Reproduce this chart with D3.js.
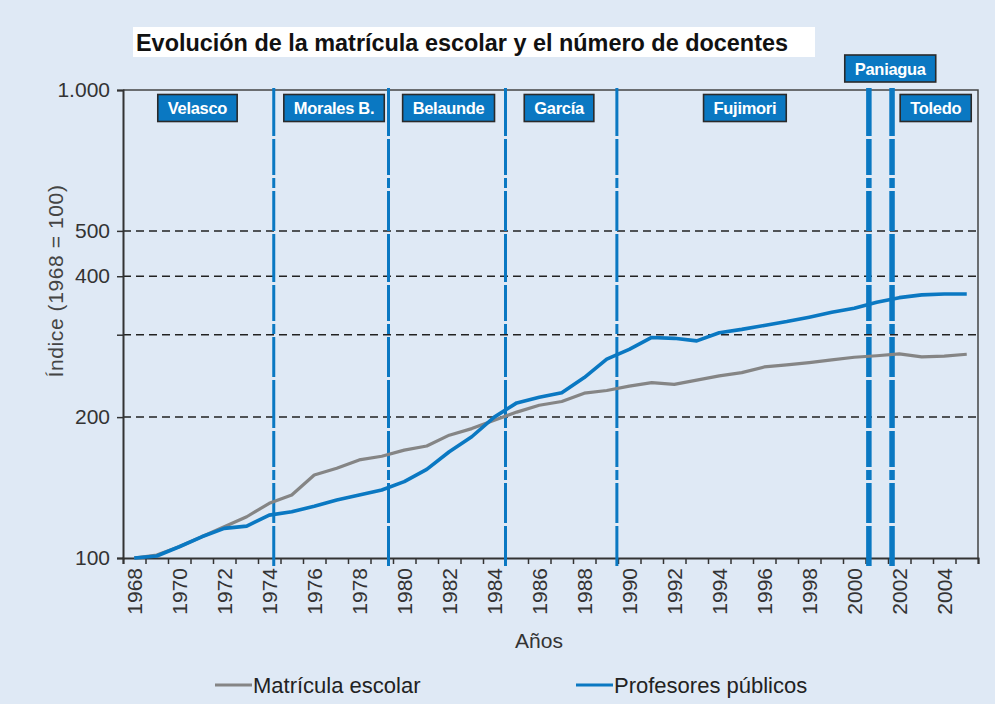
<!DOCTYPE html>
<html>
<head>
<meta charset="utf-8">
<script src="https://cdn.jsdelivr.net/npm/d3@7"></script>
<style>
  html, body { margin: 0; padding: 0; background: #dfe9f5; }
  svg { display: block; font-family: "Liberation Sans", Arial, sans-serif; }
</style>
</head>
<body>
<svg id="chart" width="995" height="704"></svg>
<script>
// Years shown on the horizontal axis
const years = [1968, 1969, 1970, 1971, 1972, 1973, 1974, 1975, 1976, 1977,
               1978, 1979, 1980, 1981, 1982, 1983, 1984, 1985, 1986, 1987,
               1988, 1989, 1990, 1991, 1992, 1993, 1994, 1995, 1996, 1997,
               1998, 1999, 2000, 2001, 2002, 2003, 2004, 2005];

// Index values (1968 = 100)
const matricula = [100, 101.5, 105.7, 111, 116.6, 122.5, 130.9, 136.3, 150.4, 155.5,
                   162, 165, 170, 173.5, 183, 189, 197, 205, 212, 216,
                   225, 228, 233, 237, 235, 240, 245, 249, 256, 258.5,
                   261.5, 265, 268.5, 270.5, 273, 269, 270, 272.5];
const profesores = [100, 101, 105.7, 111, 115.7, 117, 123.5, 125.6, 129, 133,
                    136.3, 139.7, 145.6, 154.7, 168.7, 181.6, 200, 214.5, 220.5, 225.5,
                    243, 266, 279, 296, 294.7, 291, 303, 308, 314, 320,
                    327, 335, 341.6, 352, 360, 365, 366.5, 366.5];

// Y axis ticks and labels
const yTicks = [100, 200, 300, 400, 500, 1000];
const yTickLabels = ["100", "200", "", "400", "500", "1.000"];
const gridValues = [200, 300, 400, 500];
const xLabelYears = [1968, 1970, 1972, 1974, 1976, 1978, 1980, 1982, 1984, 1986,
                     1988, 1990, 1992, 1994, 1996, 1998, 2000, 2002, 2004];

// Changes of government (fractional year position) and line weights
const mandateBreaks = [1974.2, 1979.3, 1984.5, 1989.45, 2000.65, 2001.68];
const breakWeights = [3, 3, 3, 3, 5.5, 5.5];

// Government labels: name, centre (year units), row (0 = inside, 1 = above plot)
const presidents = ["Velasco", "Morales B.", "Belaunde", "García", "Fujimori", "Paniagua", "Toledo"];
const presidentCenters = [1970.81, 1976.88, 1981.97, 1986.88, 1995.14, 2001.6, 2003.62];
const presidentRows = [0, 0, 0, 0, 0, 1, 0];

const seriesNames = ["Matrícula escolar", "Profesores públicos"];
const seriesColors = ["#858585", "#0a78c2"];
const BLUE = "#0a78c2";

const svg = d3.select("#chart");
const W = 995, H = 704;
const plot = { left: 123, right: 978, top: 90, bottom: 558 };

svg.append("rect").attr("width", W).attr("height", H).attr("fill", "#dfe9f5");

// Title on white band
svg.append("rect").attr("x", 133).attr("y", 27).attr("width", 682).attr("height", 30).attr("fill", "#ffffff");
svg.append("text")
  .attr("x", 136).attr("y", 51)
  .attr("font-size", 23).attr("font-weight", "bold").attr("fill", "#111")
  .attr("textLength", 652).attr("lengthAdjust", "spacingAndGlyphs")
  .text("Evolución de la matrícula escolar y el número de docentes");

const x = d3.scaleLinear().domain([years[0] - 0.5, years[years.length - 1] + 0.5]).range([plot.left, plot.right]);
const y = d3.scaleLog().domain([100, 1000]).range([plot.bottom, plot.top]);

// Dashed horizontal grid
svg.append("g").selectAll("line").data(gridValues).join("line")
  .attr("x1", plot.left).attr("x2", plot.right)
  .attr("y1", d => y(d)).attr("y2", d => y(d))
  .attr("stroke", "#222").attr("stroke-width", 1.5).attr("stroke-dasharray", "8,5");

// Frame top and right
svg.append("path")
  .attr("d", `M${plot.left},${plot.top}H${plot.right}V${plot.bottom}`)
  .attr("fill", "none").attr("stroke", "#444").attr("stroke-width", 1.5);

// Y axis
const yAxis = svg.append("g").attr("transform", `translate(${plot.left},0)`)
  .call(d3.axisLeft(y).tickValues(yTicks).tickSize(6).tickPadding(7)
    .tickFormat((d, i) => yTickLabels[i]));
yAxis.select(".domain").attr("stroke", "#333").attr("stroke-width", 2);
yAxis.selectAll(".tick line").attr("stroke", "#333").attr("stroke-width", 1.5);
yAxis.selectAll(".tick text").attr("font-size", 21).attr("fill", "#333")
  .attr("font-family", "'Liberation Sans', Arial, sans-serif");

// X axis: ticks on year boundaries, rotated labels every second year
const boundaries = [years[0] - 0.5].concat(years.map(d => d + 0.5));
const xAxis = svg.append("g").attr("transform", `translate(0,${plot.bottom})`)
  .call(d3.axisBottom(x).tickValues(boundaries).tickSize(6).tickFormat(""));
xAxis.select(".domain").attr("stroke", "#333").attr("stroke-width", 2);
xAxis.selectAll(".tick line").attr("stroke", "#333").attr("stroke-width", 1.5);

svg.append("g").selectAll("text").data(xLabelYears).join("text")
  .attr("transform", d => `translate(${x(d)},568) rotate(-90)`)
  .attr("text-anchor", "end").attr("dy", "0.36em")
  .attr("font-size", 21).attr("fill", "#333")
  .text(d => d);

// Axis titles
svg.append("text")
  .attr("x", 539).attr("y", 648).attr("text-anchor", "middle")
  .attr("font-size", 21).attr("fill", "#333").text("Años");
svg.append("text")
  .attr("transform", "translate(63,281) rotate(-90)")
  .attr("text-anchor", "middle").attr("font-size", 21).attr("fill", "#444")
  .attr("letter-spacing", 0.6)
  .text("Índice (1968 = 100)");

// Government change lines
svg.append("g").selectAll("line").data(mandateBreaks).join("line")
  .attr("x1", d => x(d)).attr("x2", d => x(d))
  .attr("y1", 88).attr("y2", 566)
  .attr("stroke", BLUE)
  .attr("stroke-width", (d, i) => breakWeights[i])
  .attr("stroke-dasharray", "48,3,36,3,10,3,40,3");

// Series lines
const line = d3.line().x((d, i) => x(years[i])).y(d => y(d));
[matricula, profesores].forEach((vals, k) => {
  svg.append("path").datum(vals)
    .attr("d", line)
    .attr("fill", "none")
    .attr("stroke", seriesColors[k])
    .attr("stroke-width", k === 0 ? 3.2 : 3.6)
    .attr("stroke-linejoin", "round");
});

// Government labels
const boxH = 27;
const rowCenter = [108, 68.5];
const labels = svg.append("g").selectAll("g").data(presidents).join("g");
labels.each(function (name, i) {
  const g = d3.select(this);
  const t = g.append("text")
    .attr("x", x(presidentCenters[i]))
    .attr("y", rowCenter[presidentRows[i]] + 6)
    .attr("text-anchor", "middle")
    .attr("font-size", 16.5).attr("font-weight", "bold").attr("fill", "#ffffff")
    .attr("letter-spacing", -0.3)
    .text(name);
  const bw = t.node().getComputedTextLength() + 20;
  g.insert("rect", "text")
    .attr("x", x(presidentCenters[i]) - bw / 2)
    .attr("y", rowCenter[presidentRows[i]] - boxH / 2)
    .attr("width", bw).attr("height", boxH)
    .attr("fill", BLUE).attr("stroke", "#2a2a2a").attr("stroke-width", 1.6);
});

// Legend
const legendX = [215, 576];
seriesNames.forEach((name, k) => {
  svg.append("line")
    .attr("x1", legendX[k]).attr("x2", legendX[k] + 37)
    .attr("y1", 685).attr("y2", 685)
    .attr("stroke", seriesColors[k]).attr("stroke-width", 3.2);
  svg.append("text")
    .attr("x", legendX[k] + 38).attr("y", 693)
    .attr("font-size", 22).attr("fill", "#222")
    .text(name);
});
</script>
</body>
</html>
